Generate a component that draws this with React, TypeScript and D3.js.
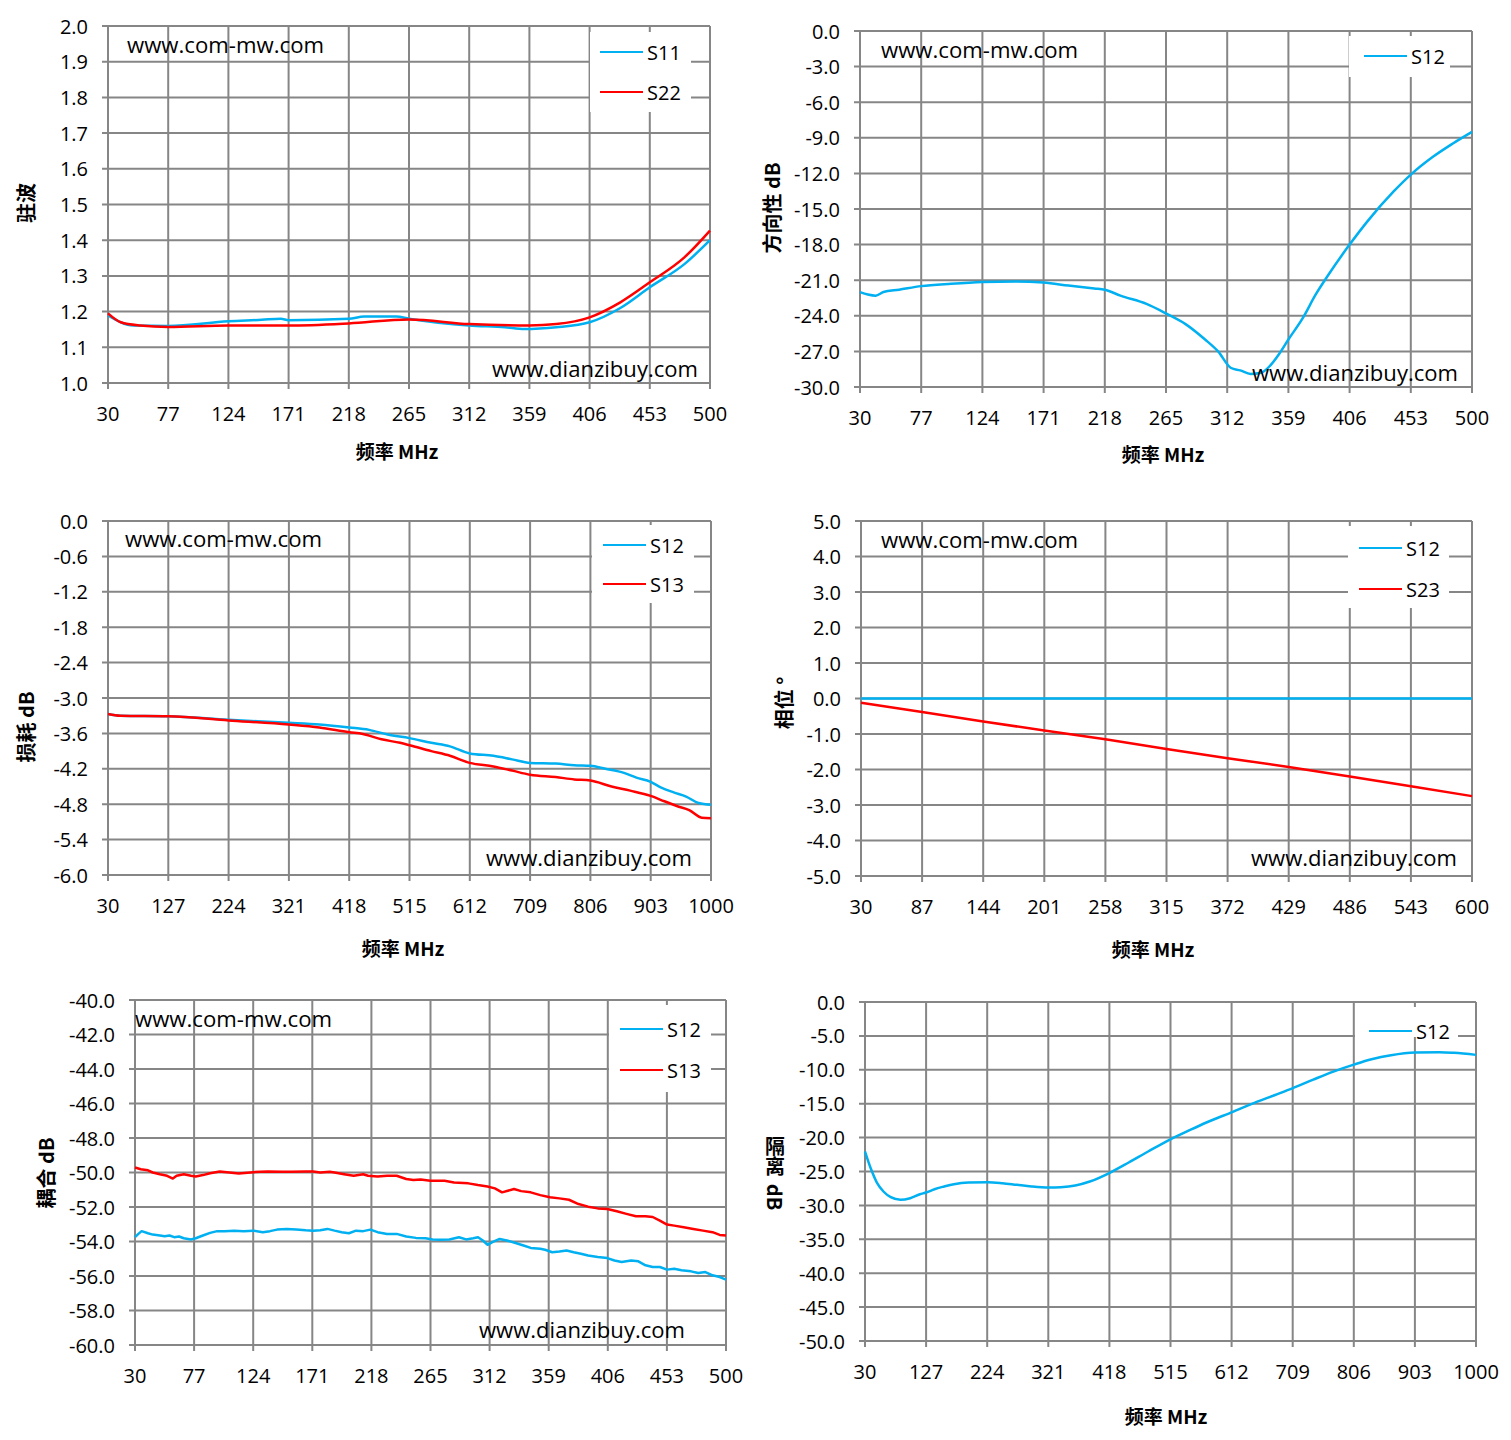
import * as d3 from 'd3'
import { useEffect, useRef } from 'react'

// ---- tick labels ----
const X_TICKS_500 = [30, 77, 124, 171, 218, 265, 312, 359, 406, 453, 500]
const X_TICKS_1000 = [30, 127, 224, 321, 418, 515, 612, 709, 806, 903, 1000]
const X_TICKS_600 = [30, 87, 144, 201, 258, 315, 372, 429, 486, 543, 600]

const Y_TICKS_VSWR = [1.0, 1.1, 1.2, 1.3, 1.4, 1.5, 1.6, 1.7, 1.8, 1.9, 2.0]
const Y_TICKS_DIR = [-30, -27, -24, -21, -18, -15, -12, -9, -6, -3, 0]
const Y_TICKS_LOSS = [-6.0, -5.4, -4.8, -4.2, -3.6, -3.0, -2.4, -1.8, -1.2, -0.6, 0.0]
const Y_TICKS_PHASE = [-5, -4, -3, -2, -1, 0, 1, 2, 3, 4, 5]
const Y_TICKS_COUP = [-60, -58, -56, -54, -52, -50, -48, -46, -44, -42, -40]
const Y_TICKS_ISO = [-50, -45, -40, -35, -30, -25, -20, -15, -10, -5, 0]

// ---- 驻波 ----
const VSWR_FREQ_S11 = [30, 50, 77, 124, 150, 165, 171, 218, 230, 255, 265, 312, 340, 355, 380, 406, 430, 453, 480, 500]
const VSWR_S11 = [1.189, 1.161, 1.16, 1.173, 1.177, 1.18, 1.176, 1.18, 1.186, 1.186, 1.18, 1.161, 1.156, 1.151, 1.156, 1.17, 1.21, 1.268, 1.333, 1.4]
const VSWR_FREQ_S22 = [30, 40, 55, 77, 124, 171, 218, 265, 312, 359, 380, 406, 430, 453, 480, 500]
const VSWR_S22 = [1.195, 1.17, 1.161, 1.157, 1.161, 1.161, 1.167, 1.178, 1.165, 1.161, 1.165, 1.184, 1.226, 1.282, 1.352, 1.427]

// ---- 方向性 ----
const DIR_FREQ = [30, 36, 42, 48, 60, 77, 100, 124, 150, 171, 190, 210, 218, 230, 250, 265, 280, 295, 305, 315, 322, 330, 338, 345, 352, 359, 370, 380, 390, 406, 420, 440, 453, 470, 485, 500]
const DIR_S12 = [-22.0, -22.2, -22.3, -22.0, -21.8, -21.5, -21.3, -21.15, -21.1, -21.2, -21.45, -21.7, -21.8, -22.3, -23.0, -23.8, -24.7, -26.0, -27.0, -28.4, -28.6, -28.9, -28.8, -28.2, -27.2, -26.0, -24.2, -22.2, -20.5, -18.0, -16.0, -13.5, -12.1, -10.6, -9.5, -8.5]

// ---- 损耗 ----
const LOSS_FREQ_S12 = [30, 50, 127, 224, 321, 370, 418, 450, 480, 515, 550, 580, 612, 650, 680, 709, 750, 780, 806, 830, 860, 880, 903, 920, 940, 960, 980, 1000]
const LOSS_S12 = [-3.27, -3.3, -3.31, -3.37, -3.42, -3.45, -3.5, -3.54, -3.62, -3.68, -3.76, -3.82, -3.94, -3.98, -4.04, -4.1, -4.11, -4.14, -4.15, -4.2, -4.27, -4.35, -4.42, -4.52, -4.6, -4.67, -4.78, -4.81]
const LOSS_FREQ_S13 = [30, 50, 127, 224, 321, 370, 418, 440, 470, 500, 515, 550, 580, 612, 650, 680, 709, 750, 780, 806, 840, 870, 903, 925, 945, 965, 985, 1000]
const LOSS_S13 = [-3.27, -3.3, -3.31, -3.38, -3.45, -3.5, -3.58, -3.61, -3.7, -3.76, -3.8, -3.9, -3.98, -4.1, -4.16, -4.23, -4.3, -4.34, -4.38, -4.4, -4.5, -4.57, -4.66, -4.75, -4.83, -4.9, -5.03, -5.04]

// ---- 相位 ----
const PHASE_FREQ = [30, 87, 144, 201, 258, 315, 372, 429, 486, 543, 600]
const PHASE_S12 = [0.0, 0.0, 0.0, 0.0, 0.0, 0.0, 0.0, 0.0, 0.0, 0.0, 0.0]
const PHASE_S23 = [-0.12, -0.38, -0.65, -0.9, -1.15, -1.42, -1.68, -1.93, -2.2, -2.47, -2.75]

// ---- 耦合 ----
const COUP_FREQ_S13 = [30, 34.6, 40.3, 44.1, 49.8, 55.5, 60.1, 63.1, 68.8, 74.5, 78.3, 84, 89.7, 97.4, 105, 112.6, 124, 135.4, 146.8, 154.4, 165.8, 171.6, 177.3, 184.9, 188.7, 196.3, 203.9, 211.5, 215.3, 222.9, 230.5, 238.1, 245.7, 251.4, 257.2, 264.8, 276.2, 283.7, 295.1, 302.7, 310.3, 316.2, 321.9, 331.4, 337.1, 344.7, 352.3, 360, 367.5, 375.1, 382.7, 390.3, 398, 405.6, 413.2, 420.8, 428.4, 436, 441.7, 447.4, 453.1, 458.8, 466.4, 474, 481.7, 489.3, 495, 500]
const COUP_S13 = [-49.71, -49.81, -49.87, -50.0, -50.1, -50.19, -50.35, -50.19, -50.1, -50.19, -50.23, -50.15, -50.04, -49.94, -50.0, -50.06, -49.98, -49.94, -49.96, -49.96, -49.94, -49.94, -50.0, -49.96, -50.0, -50.1, -50.19, -50.1, -50.19, -50.23, -50.19, -50.19, -50.38, -50.44, -50.4, -50.48, -50.48, -50.58, -50.63, -50.73, -50.81, -50.92, -51.15, -50.96, -51.08, -51.15, -51.31, -51.44, -51.5, -51.58, -51.83, -51.98, -52.08, -52.12, -52.25, -52.4, -52.54, -52.54, -52.58, -52.79, -53.02, -53.08, -53.17, -53.27, -53.37, -53.46, -53.62, -53.65]
const COUP_FREQ_S12 = [30, 32.7, 35.3, 40.3, 44.1, 49.8, 53.6, 57.4, 61.2, 65, 68.8, 74.5, 78.3, 84, 89.7, 95.4, 101.2, 108.8, 116.4, 124, 131.6, 137.3, 143, 150.6, 158.2, 165.8, 171.6, 177.3, 183, 188.7, 194.4, 200.1, 205.8, 211.5, 217.2, 222.9, 230.5, 238.1, 245.7, 253.4, 261, 266.7, 272.4, 280, 287.6, 293.3, 299, 302.8, 306.6, 310.4, 314.2, 320, 325.7, 333.3, 339, 344.7, 352.3, 356.1, 361.8, 367.5, 373.2, 378.9, 384.6, 390.3, 398, 405.6, 411.3, 417, 424.6, 430.3, 436, 441.7, 447.4, 453.1, 458.8, 464.6, 472.2, 477.9, 483.6, 489.3, 495, 500]
const COUP_S12 = [-53.75, -53.56, -53.4, -53.52, -53.6, -53.65, -53.69, -53.65, -53.75, -53.71, -53.81, -53.88, -53.81, -53.65, -53.5, -53.4, -53.4, -53.37, -53.4, -53.37, -53.46, -53.4, -53.31, -53.27, -53.31, -53.35, -53.37, -53.35, -53.27, -53.37, -53.46, -53.52, -53.37, -53.4, -53.31, -53.46, -53.56, -53.56, -53.71, -53.79, -53.81, -53.88, -53.9, -53.88, -53.75, -53.88, -53.81, -53.75, -53.94, -54.19, -54.04, -53.85, -53.94, -54.1, -54.23, -54.37, -54.42, -54.48, -54.62, -54.58, -54.52, -54.62, -54.71, -54.81, -54.9, -54.96, -55.1, -55.19, -55.1, -55.15, -55.38, -55.48, -55.48, -55.63, -55.58, -55.67, -55.73, -55.83, -55.77, -55.96, -56.06, -56.21]

// ---- 隔离 ----
const ISO_FREQ = [30, 40, 49.3, 59.3, 70.9, 86.3, 101.7, 117.1, 127.1, 140.3, 155.7, 171.1, 194.2, 225.1, 248.2, 271.3, 294.5, 321.4, 340.7, 363.8, 386.9, 419.4, 448.7, 479.5, 516.5, 541.2, 572, 612.9, 649.1, 680, 709.3, 741.6, 772.5, 807.2, 834.2, 865, 903.6, 942.1, 965.2, 1000]
const ISO_S12 = [-22.05, -24.75, -26.72, -27.95, -28.79, -29.18, -28.94, -28.35, -28.1, -27.61, -27.21, -26.87, -26.62, -26.57, -26.72, -26.97, -27.21, -27.36, -27.31, -27.07, -26.48, -25.15, -23.67, -22.05, -20.18, -19.09, -17.77, -16.24, -14.85, -13.75, -12.7, -11.45, -10.3, -9.2, -8.45, -7.85, -7.45, -7.4, -7.5, -7.8]

const BLUE = '#00b0f0'
const RED = '#ff0000'
const GRID = '#868686'
const TICK_FONT = '"Liberation Sans Narrow", "Open Sans", sans-serif'
const TITLE_FONT = '"Noto Sans CJK SC", sans-serif'

type Series = { name: string; xs: number[]; ys: number[]; color: string }

type PanelCfg = {
  left: number; right: number; top: number; bottom: number
  xTicks: number[]; yTicks: number[]; yDigits: number
  series: Series[]
  curve: d3.CurveFactory
  legend: { x: number; y: number; w: number; h: number; lineX: number; rows: number[] }
  wmTop?: { x: number; y: number }
  wmBottom?: { x: number; y: number }
  yTitle: { x: number; y: number; text: string; vertical?: boolean }
  xTitle?: { x: number; y: number }
}

const panels: PanelCfg[] = [
  {
    left: 108, right: 710, top: 26, bottom: 383,
    xTicks: X_TICKS_500, yTicks: Y_TICKS_VSWR, yDigits: 1,
    series: [
      { name: 'S11', xs: VSWR_FREQ_S11, ys: VSWR_S11, color: BLUE },
      { name: 'S22', xs: VSWR_FREQ_S22, ys: VSWR_S22, color: RED },
    ],
    curve: d3.curveMonotoneX,
    legend: { x: 590, y: 32, w: 101, h: 80, lineX: 600, rows: [52, 92] },
    wmTop: { x: 127, y: 44 }, wmBottom: { x: 492, y: 368 },
    yTitle: { x: 25, y: 203, text: '驻波' },
    xTitle: { x: 397, y: 450 },
  },
  {
    left: 860, right: 1472, top: 31, bottom: 387,
    xTicks: X_TICKS_500, yTicks: Y_TICKS_DIR, yDigits: 1,
    series: [{ name: 'S12', xs: DIR_FREQ, ys: DIR_S12, color: BLUE }],
    curve: d3.curveMonotoneX,
    legend: { x: 1349, y: 36, w: 101, h: 41, lineX: 1364, rows: [56] },
    wmTop: { x: 881, y: 49 }, wmBottom: { x: 1252, y: 372 },
    yTitle: { x: 771, y: 208, text: '方向性 dB' },
    xTitle: { x: 1163, y: 453 },
  },
  {
    left: 108, right: 711, top: 521, bottom: 875,
    xTicks: X_TICKS_1000, yTicks: Y_TICKS_LOSS, yDigits: 1,
    series: [
      { name: 'S12', xs: LOSS_FREQ_S12, ys: LOSS_S12, color: BLUE },
      { name: 'S13', xs: LOSS_FREQ_S13, ys: LOSS_S13, color: RED },
    ],
    curve: d3.curveMonotoneX,
    legend: { x: 592, y: 525, w: 102, h: 78, lineX: 603, rows: [545, 584] },
    wmTop: { x: 125, y: 538 }, wmBottom: { x: 486, y: 857 },
    yTitle: { x: 25, y: 727, text: '损耗 dB' },
    xTitle: { x: 403, y: 947 },
  },
  {
    left: 861, right: 1472, top: 521, bottom: 876,
    xTicks: X_TICKS_600, yTicks: Y_TICKS_PHASE, yDigits: 1,
    series: [
      { name: 'S12', xs: PHASE_FREQ, ys: PHASE_S12, color: BLUE },
      { name: 'S23', xs: PHASE_FREQ, ys: PHASE_S23, color: RED },
    ],
    curve: d3.curveLinear,
    legend: { x: 1348, y: 526, w: 101, h: 82, lineX: 1359, rows: [548, 589] },
    wmTop: { x: 881, y: 539 }, wmBottom: { x: 1251, y: 857 },
    yTitle: { x: 783, y: 703, text: '相位 °' },
    xTitle: { x: 1153, y: 948 },
  },
  {
    left: 135, right: 726, top: 1000, bottom: 1345,
    xTicks: X_TICKS_500, yTicks: Y_TICKS_COUP, yDigits: 1,
    series: [
      { name: 'S12', xs: COUP_FREQ_S12, ys: COUP_S12, color: BLUE },
      { name: 'S13', xs: COUP_FREQ_S13, ys: COUP_S13, color: RED },
    ],
    curve: d3.curveLinear,
    legend: { x: 609, y: 1005, w: 102, h: 87, lineX: 620, rows: [1029, 1070] },
    wmTop: { x: 135, y: 1018 }, wmBottom: { x: 479, y: 1329 },
    yTitle: { x: 45, y: 1173, text: '耦合 dB' },
  },
  {
    left: 865, right: 1476, top: 1002, bottom: 1341,
    xTicks: X_TICKS_1000, yTicks: Y_TICKS_ISO, yDigits: 1,
    series: [{ name: 'S12', xs: ISO_FREQ, ys: ISO_S12, color: BLUE }],
    curve: d3.curveMonotoneX,
    legend: { x: 1355, y: 1007, w: 103, h: 30, lineX: 1369, rows: [1031] },
    yTitle: { x: 775, y: 1156, text: '隔离', vertical: true },
    xTitle: { x: 1166, y: 1415 },
  },
]

export default function App() {
  const ref = useRef<SVGSVGElement | null>(null)

  useEffect(() => {
    if (!ref.current) return
    const svg = d3.select(ref.current)
    svg.selectAll('*').remove()

    panels.forEach(p => {
      const g = svg.append('g')
      const x = d3.scaleLinear()
        .domain([p.xTicks[0], p.xTicks[p.xTicks.length - 1]])
        .range([p.left, p.right])
      const y = d3.scaleLinear()
        .domain([p.yTicks[0], p.yTicks[p.yTicks.length - 1]])
        .range([p.bottom, p.top])

      // grid + tick marks
      g.selectAll('line.vg').data(p.xTicks).join('line')
        .attr('x1', d => x(d)).attr('x2', d => x(d))
        .attr('y1', p.top).attr('y2', p.bottom + 6)
        .attr('stroke', GRID).attr('stroke-width', 2)
      g.selectAll('line.hg').data(p.yTicks).join('line')
        .attr('x1', p.left - 6).attr('x2', p.right)
        .attr('y1', d => y(d)).attr('y2', d => y(d))
        .attr('stroke', GRID).attr('stroke-width', 2)

      // tick labels
      g.selectAll('text.yt').data(p.yTicks).join('text')
        .attr('x', p.left - 20).attr('y', d => y(d))
        .attr('text-anchor', 'end').attr('dominant-baseline', 'central')
        .attr('font-family', TICK_FONT).attr('font-size', 20).attr('fill', '#000')
        .text(d => d.toFixed(p.yDigits))
      g.selectAll('text.xt').data(p.xTicks).join('text')
        .attr('x', d => x(d)).attr('y', p.bottom + 30)
        .attr('text-anchor', 'middle').attr('dominant-baseline', 'central')
        .attr('font-family', TICK_FONT).attr('font-size', 20).attr('fill', '#000')
        .text(d => String(d))

      // legend
      const lg = p.legend
      g.append('rect')
        .attr('x', lg.x).attr('y', lg.y).attr('width', lg.w).attr('height', lg.h)
        .attr('fill', '#fff')
      p.series.forEach((s, i) => {
        const ry = lg.rows[i]
        g.append('line')
          .attr('x1', lg.lineX).attr('x2', lg.lineX + 43)
          .attr('y1', ry).attr('y2', ry)
          .attr('stroke', s.color).attr('stroke-width', 2)
        g.append('text')
          .attr('x', lg.lineX + 47).attr('y', ry)
          .attr('dominant-baseline', 'central')
          .attr('font-family', TICK_FONT).attr('font-size', 20)
          .text(s.name)
      })

      // series
      p.series.forEach(s => {
        const line = d3.line<number>()
          .x((_, i) => x(s.xs[i]))
          .y(d => y(d))
          .curve(p.curve)
        g.append('path')
          .datum(s.ys)
          .attr('fill', 'none')
          .attr('stroke', s.color)
          .attr('stroke-width', 2.5)
          .attr('stroke-linejoin', 'round')
          .attr('d', line)
      })

      // watermarks
      if (p.wmTop) {
        g.append('text')
          .attr('x', p.wmTop.x).attr('y', p.wmTop.y)
          .attr('dominant-baseline', 'central')
          .attr('font-family', TICK_FONT).attr('font-size', 22)
          .attr('textLength', 197).attr('lengthAdjust', 'spacingAndGlyphs')
          .text('www.com-mw.com')
      }
      if (p.wmBottom) {
        g.append('text')
          .attr('x', p.wmBottom.x).attr('y', p.wmBottom.y)
          .attr('dominant-baseline', 'central')
          .attr('font-family', TICK_FONT).attr('font-size', 22)
          .attr('textLength', 206).attr('lengthAdjust', 'spacingAndGlyphs')
          .text('www.dianzibuy.com')
      }

      // axis titles
      const yt = p.yTitle
      if (yt.vertical) {
        // CJK set vertically (upright), then "dB" turned clockwise below it
        g.append('text')
          .attr('x', yt.x).attr('y', yt.y)
          .attr('text-anchor', 'middle')
          .style('writing-mode', 'vertical-rl')
          .attr('font-family', TITLE_FONT).attr('font-weight', 'bold').attr('font-size', 20)
          .text(yt.text)
        g.append('text')
          .attr('text-anchor', 'middle').attr('dominant-baseline', 'central')
          .attr('font-family', TITLE_FONT).attr('font-weight', 'bold').attr('font-size', 20)
          .attr('transform', `translate(${yt.x},${yt.y + 41}) rotate(90)`)
          .text('dB')
      } else {
        g.append('text')
          .attr('font-family', TITLE_FONT).attr('font-weight', 'bold').attr('font-size', 20)
          .attr('text-anchor', 'middle').attr('dominant-baseline', 'central')
          .attr('transform', `translate(${yt.x},${yt.y}) rotate(-90)`)
          .text(yt.text)
      }
      if (p.xTitle) {
        g.append('text')
          .attr('x', p.xTitle.x).attr('y', p.xTitle.y)
          .attr('text-anchor', 'middle').attr('dominant-baseline', 'central')
          .attr('font-family', TITLE_FONT).attr('font-weight', 'bold').attr('font-size', 19)
          .text('频率 MHz')
      }
    })
  }, [])

  return (
    <svg
      ref={ref}
      width={1511}
      height={1440}
      style={{ position: 'absolute', left: 0, top: 0, background: '#fff' }}
    />
  )
}
